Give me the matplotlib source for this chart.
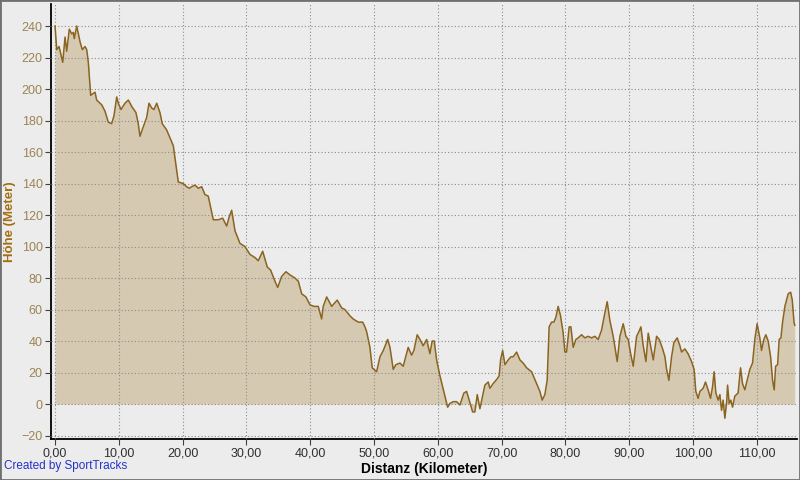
import matplotlib
matplotlib.use("Agg")
import matplotlib.pyplot as plt
from matplotlib.patches import Rectangle

km = [0.0, 0.27, 0.63, 1.21, 1.57, 1.83, 2.24, 2.62, 2.87, 3.02, 3.40, 3.92, 4.28, 4.70, 4.97,
      5.22, 5.59, 5.91, 6.27, 6.53, 7.32, 7.83, 8.35, 8.88, 9.24, 9.67, 9.92, 10.34, 10.97,
      11.49, 12.02, 12.69, 13.05, 13.32, 13.74, 14.37, 14.73, 15.15, 15.51, 15.94, 16.45,
      16.81, 17.50, 18.02, 18.54, 19.32, 20.10, 20.63, 21.04, 21.42, 21.94, 22.46, 22.99,
      23.50, 24.02, 24.81, 25.59, 26.28, 26.91, 27.31, 27.69, 28.21, 28.99, 29.77, 30.56,
      31.34, 31.86, 32.55, 33.27, 33.80, 34.47, 34.90, 35.52, 36.20, 36.82, 37.61, 38.13,
      38.66, 39.33, 39.96, 40.59, 41.26, 41.79, 42.04, 42.58, 43.36, 44.24, 44.93, 45.44,
      46.23, 46.74, 47.53, 48.22, 48.58, 48.84, 49.36, 49.72, 50.41, 50.93, 51.45, 52.14,
      52.50, 53.01, 53.43, 54.06, 54.58, 55.36, 55.89, 56.25, 56.77, 57.20, 57.71, 58.25,
      58.76, 59.12, 59.44, 59.81, 60.33, 61.00, 61.54, 61.90, 62.42, 62.95, 63.46, 64.09,
      64.51, 64.92, 65.45, 65.81, 66.18, 66.60, 67.02, 67.38, 67.90, 68.16, 68.68, 69.31,
      69.62, 69.84, 70.16, 70.52, 71.03, 71.46, 71.82, 72.35, 72.87, 73.38, 73.92, 74.70,
      75.48, 76.00, 76.36, 76.78, 77.14, 77.45, 77.83, 78.19, 78.50, 78.86, 79.24, 79.65,
      79.92, 80.18, 80.59, 80.86, 81.22, 81.64, 82.00, 82.53, 83.05, 83.57, 84.10, 84.62,
      85.14, 85.67, 86.19, 86.55, 86.97, 87.49, 88.12, 88.54, 89.06, 89.48, 89.84, 90.22,
      90.63, 91.16, 91.52, 91.83, 92.20, 92.62, 92.98, 93.40, 93.77, 94.29, 94.71, 95.24,
      95.60, 95.86, 96.22, 96.64, 97.00, 97.52, 97.94, 98.21, 98.72, 99.22, 99.77, 100.17,
      100.44, 100.80, 101.07, 101.59, 101.96, 102.37, 102.75, 103.06, 103.31, 103.58,
      103.94, 104.21, 104.47, 104.72, 104.99, 105.26, 105.42, 105.67, 105.93, 106.19,
      106.55, 107.07, 107.45, 107.76, 108.12, 108.48, 108.91, 109.33, 109.69, 110.05,
      110.47, 110.74, 111.10, 111.42, 111.78, 112.16, 112.47, 112.73, 112.95, 113.26,
      113.51, 113.78, 114.04, 114.40, 114.92, 115.30, 115.56, 115.83, 115.95]

hoehe = [240, 225, 227, 217, 233, 224, 238, 235, 236, 232, 240, 230, 225, 227, 225,
         217, 196, 197, 198, 193, 190, 186, 179, 178, 183, 195, 191, 187, 191,
         193, 189, 185, 178, 170, 175, 182, 191, 188, 187, 191, 185,
         178, 174, 169, 164, 141, 140, 138, 137, 138, 139, 137, 138,
         133, 132, 117, 117, 118, 113, 119, 123, 110, 102, 100, 95,
         93, 91, 97, 87, 85, 78, 74, 81, 84, 82, 80, 78,
         70, 68, 63, 62, 62, 54, 62, 68, 62, 66, 61, 60,
         56, 54, 52, 52, 49, 46, 36, 23, 20.5, 30, 34, 41,
         36, 22, 25, 26, 24, 36, 31, 34, 44, 41, 37, 41,
         32, 40, 40, 28, 18, 7, -2, 0.4, 1.5, 1.5, -0.6, 7,
         8, 2.5, -5, -5, 6, -3, 5, 12, 14, 10, 13, 16,
         18, 28, 34, 25, 28, 30, 30, 33, 28, 26, 23, 20.5,
         13, 8, 2.5, 6, 15, 49, 52, 52, 55, 62, 56, 45,
         33, 33, 49, 49, 36, 41, 42, 44, 42, 43, 42, 43,
         41, 47, 58, 65, 53, 43, 27, 43, 51, 43, 41, 32,
         24, 43, 46, 49, 37, 27, 45, 36, 28, 43, 41, 35,
         30, 22, 15, 30, 39, 42, 37, 33, 35, 32, 27, 22,
         8, 3.6, 8, 10, 14, 9, 3.6, 11, 20.5, 7,
         2.5, 6, -4, 2.5, -9, 0.4, 12, 0.4, 2.5, -2,
         5, 7, 23, 13, 9, 15, 22, 26, 41, 51,
         42, 34, 41, 44, 40, 30, 15, 9, 24, 25,
         41, 42, 52, 62, 70, 71, 66, 52, 50]

y_ticks = list(range(-20, 241, 20))
x_ticks = list(range(0, 111, 10))
x_tick_labels = [f"{v},00" for v in x_ticks]

W, H = 800, 480
fig = plt.figure(figsize=(W / 100, H / 100), dpi=100, facecolor="#ECECEC")
plt.rcParams['font.family'] = ['Liberation Sans', 'DejaVu Sans']

left, right, bottom, top = 51, 797, 439, 4
ax = fig.add_axes([left / W, 1 - bottom / H, (right - left) / W, (bottom - top) / H])
ax.set_facecolor("#ECECEC")
ax.set_xlim(-0.63, 116.3)
ax.set_ylim(-22.2, 254)

ax.fill_between(km, hoehe, 0, color="#D6C9B2", lw=0, zorder=2)
ax.plot(km, hoehe, color="#8A6420", lw=1.1, zorder=3)

ax.set_yticks(y_ticks)
ax.set_xticks(x_ticks)
ax.set_xticklabels(x_tick_labels)
ax.grid(True, color="#8C8C8C", linestyle=(0, (1, 2)), linewidth=0.8, zorder=4)
ax.set_axisbelow(False)

for s in ["top", "right"]:
    ax.spines[s].set_visible(False)
for s in ["left", "bottom"]:
    ax.spines[s].set_color("black")
    ax.spines[s].set_linewidth(1.3)

ax.tick_params(axis="y", colors="#404040", labelcolor="#9C8453", labelsize=9, length=4, width=0.8, pad=2)
ax.tick_params(axis="x", colors="#404040", labelcolor="#303030", labelsize=9, length=4, width=0.8, pad=2)

ax.set_ylabel("Höhe (Meter)", color="#A26E12", fontsize=9.5, fontweight="bold", labelpad=4)
ax.set_xlabel("Distanz (Kilometer)", color="black", fontsize=10, fontweight="bold", labelpad=2)

fig.text(4 / W, 1 - 472 / H, "Created by SportTracks", color="#2233CC", fontsize=8.5, va="bottom", ha="left")

fig.patches.append(Rectangle((0, 0), 1, 1, transform=fig.transFigure, fill=False,
                             edgecolor="#707070", linewidth=2))

fig.savefig("out.png", dpi=100, facecolor=fig.get_facecolor())
